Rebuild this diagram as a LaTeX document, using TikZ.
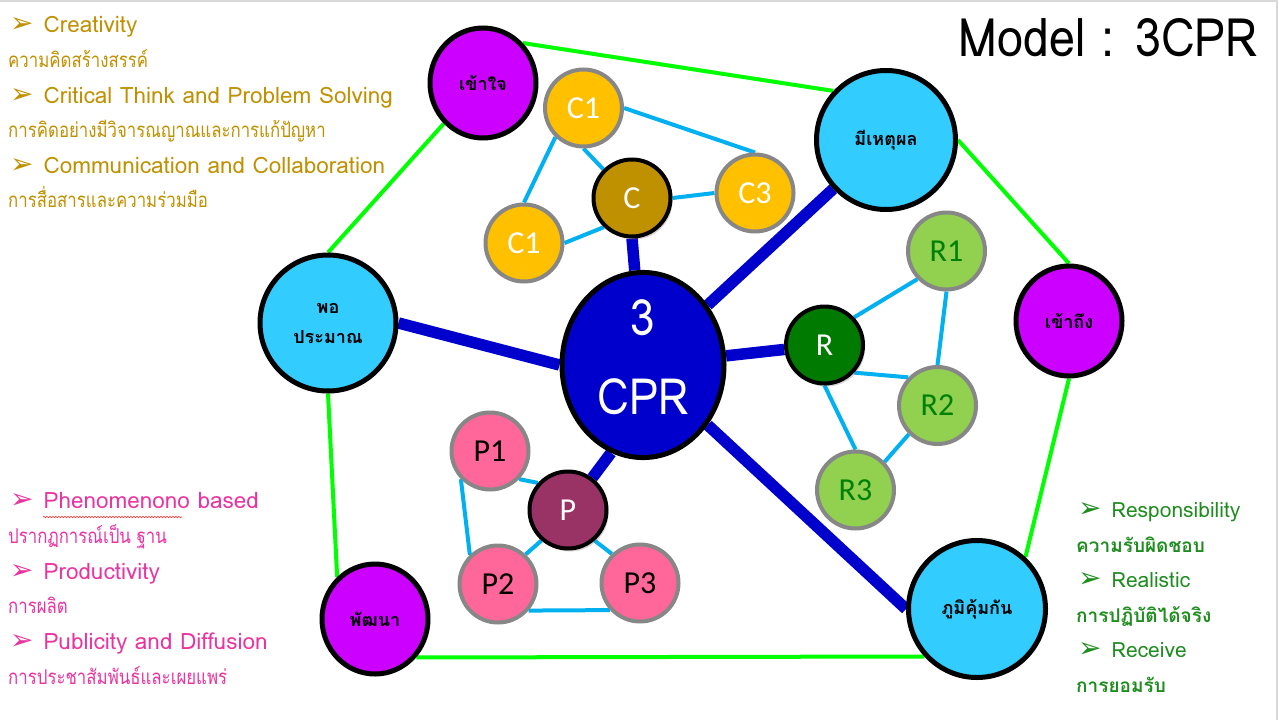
\documentclass[tikz,border=0pt]{standalone}
\usepackage{fontspec}
\setmainfont[Script=Thai]{Loma}
\newfontfamily\thcond[Script=Thai,FakeStretch=0.82]{Loma}
\newfontfamily\titlef[Script=Thai,FakeStretch=0.88]{Loma}
\newfontfamily\carl{Carlito}
\newfontfamily\dv{DejaVu Sans}
\usetikzlibrary{shapes.geometric,shadows,decorations.pathmorphing}
\definecolor{cyanfill}{RGB}{51,204,255}
\definecolor{purpfill}{RGB}{204,0,255}
\definecolor{cprblue}{RGB}{0,0,204}
\definecolor{lblue}{RGB}{0,176,240}
\definecolor{limeg}{RGB}{0,255,0}
\definecolor{cfill}{RGB}{255,192,0}
\definecolor{cdark}{RGB}{191,144,0}
\definecolor{rdark}{RGB}{0,122,0}
\definecolor{rfill}{RGB}{146,208,80}
\definecolor{rtext}{RGB}{0,128,0}
\definecolor{pdark}{RGB}{153,51,102}
\definecolor{pfill}{RGB}{255,102,153}
\definecolor{graybd}{RGB}{135,135,135}
\definecolor{goldtxt}{RGB}{191,144,0}
\definecolor{pinktxt}{RGB}{233,51,160}
\definecolor{greentxt}{RGB}{30,140,30}
\definecolor{framegray}{RGB}{217,217,217}
\pgfdeclarelayer{bg}
\pgfsetlayers{bg,main}
\newcommand{\bul}{{\dv\fontsize{28}{28}\selectfont ➢}\hspace{10pt}}
\begin{document}
\begin{tikzpicture}[x=1pt,y=-1pt,
  big/.style={draw=black, line width=5pt, inner sep=0pt, align=center, text=black,
    font=\bfseries\fontsize{18}{30}\selectfont},
  cyanb/.style={big, circle, fill=cyanfill, minimum size=137pt},
  purp/.style={big, ellipse, fill=purpfill, minimum width=106pt, minimum height=110pt},
  sm/.style={circle, inner sep=0pt, minimum size=77pt, line width=4pt,
    font=\carl\fontsize{32}{34}\selectfont},
  smgray/.style={sm, draw=graybd},
  smblack/.style={sm, draw=black, text=white, drop shadow={opacity=0.35, shadow xshift=2pt, shadow yshift=-3pt}},
  thick/.style={draw=cprblue, line width=11.5pt},
  thin/.style={draw=lblue, line width=4pt},
  poly/.style={draw=limeg, line width=4pt},
  txt/.style={anchor=west, inner sep=0pt, text height=15pt, text depth=5pt},
  gtxt/.style={txt, text=goldtxt, font=\fontsize{22.5}{24}\selectfont},
  gth/.style={txt, text=goldtxt, font=\thcond\fontsize{20.5}{22}\selectfont},
  ptxt/.style={txt, text=pinktxt, font=\fontsize{22.5}{24}\selectfont},
  pth/.style={txt, text=pinktxt, font=\thcond\fontsize{20.5}{22}\selectfont},
  rtxt/.style={txt, text=greentxt, font=\fontsize{21}{24}\selectfont},
  rth/.style={txt, text=greentxt, font=\bfseries\fontsize{19}{24}\selectfont}
]
\useasboundingbox (0,0) rectangle (1279,720);
\draw[framegray, line width=2pt] (0,1) -- (1277,1) -- (1277,720);

% big nodes
\node[purp] (kaojai) at (483,83) {เข้าใจ};
\node[cyanb, minimum size=139pt] (mee) at (886,140) {มีเหตุผล};
\node[purp] (kaoteung) at (1069,321) {เข้าถึง};
\node[cyanb] (bhumi) at (977,609) {ภูมิคุ้มกัน};
\node[purp] (pattana) at (375,619) {พัฒนา};
\node[cyanb, minimum size=136pt] (por) at (328,323) {พอ\\ประมาณ};
\node[big, ellipse, fill=cprblue, minimum width=162pt, minimum height=177pt,
  text=white, font=\titlef\fontsize{50}{79}\selectfont] (cpr) at (643,365) {3\\CPR\rule[-16pt]{0pt}{0pt}};

% C cluster
\node[smgray, fill=cfill, text=white] (c1a) at (583.5,108) {C1};
\node[smblack, fill=cdark] (c) at (632,198) {C};
\node[smgray, fill=cfill, text=white] (c1b) at (524,243) {C1};
\node[smgray, fill=cfill, text=white] (c3) at (755,193) {C3};
% R cluster
\node[smblack, fill=rdark] (r) at (824.5,345) {R};
\node[smgray, fill=rfill, text=rtext] (r1) at (946.5,251) {R1};
\node[smgray, fill=rfill, text=rtext] (r2) at (937.5,405.5) {R2};
\node[smgray, fill=rfill, text=rtext] (r3) at (855.5,490) {R3};
% P cluster
\node[smblack, fill=pdark] (p) at (568,510) {P};
\node[smgray, fill=pfill, text=black] (p1) at (490,451) {P1};
\node[smgray, fill=pfill, text=black] (p2) at (498,584) {P2};
\node[smgray, fill=pfill, text=black] (p3) at (640,583) {P3};

\begin{pgfonlayer}{bg}
  % outer green polygon
  \draw[poly] (kaojai.45) -- (mee.137);
  \draw[poly] (mee.east) -- (kaoteung.north);
  \draw[poly] (kaoteung.south) -- (bhumi.47);
  \draw[poly] (bhumi.222) -- (pattana.317);
  \draw[poly] (pattana.132) -- (por.south);
  \draw[poly] (por.north) -- (kaojai.226);
  % thick blue
  \draw[thick] (cpr) -- (mee);
  \draw[thick] (cpr.west) -- (por.east);
  \draw[thick] (cpr.95) -- (c.south);
  \draw[thick] (cpr) -- (r);
  \draw[thick] (cpr.250) -- (p.53);
  \draw[thick] (cpr) -- (bhumi.west);
  % C cluster
  \draw[thin] (c1a.south) -- (c.135);
  \draw[thin] (c1a.226) -- (c1b.north);
  \draw[thin] (c1a.east) -- (c3.north);
  \draw[thin] (c.east) -- (c3.west);
  \draw[thin] (c.226) -- (c1b.east);
  % R cluster
  \draw[thin] (r.43) -- (r1.224);
  \draw[thin] (r1.south) -- (r2.north);
  \draw[thin] (r.317) -- (r2.136);
  \draw[thin] (r.south) -- (r3.north);
  \draw[thin] (r2.225) -- (r3.44);
  % P cluster
  \draw[thin] (p1.316) -- (p.138);
  \draw[thin] (p1.224) -- (p2.134);
  \draw[thin] (p.229) -- (p2.47);
  \draw[thin] (p.311) -- (p3.134);
  \draw[thin] (p2.319) -- (p3.222);
\end{pgfonlayer}

% title
\node[anchor=east, inner sep=0pt, font=\titlef\fontsize{53}{60}\selectfont] (title) at (1258,38) {Model : 3CPR};

% top-left texts
\node[gtxt] (g1) at (10,27) {\bul Creativity};
\node[gth] (g2) at (8,62) {ความคิดสร้างสรรค์};
\node[gtxt] (g3) at (10,98) {\bul Critical Think and Problem Solving};
\node[gth] (g4) at (8,132) {การคิดอย่างมีวิจารณญาณและการแก้ปัญหา};
\node[gtxt] (g5) at (10,168) {\bul Communication and Collaboration};
\node[gth] (g6) at (8,202) {การสื่อสารและความร่วมมือ};

% bottom-left texts
\node[ptxt] (p_1) at (10,503) {\bul Phenomenono based};
\node[pth] (p_2) at (8,538) {ปรากฏการณ์เป็น ฐาน};
\node[ptxt] (p_3) at (10,574) {\bul Productivity};
\node[pth] (p_4) at (8,608) {การผลิต};
\node[ptxt] (p_5) at (10,644) {\bul Publicity and Diffusion};
\node[pth] (p_6) at (8,679) {การประชาสัมพันธ์และเผยแพร่};
\draw[red!80, line width=0.6pt, decorate, decoration={snake, amplitude=0.8pt, segment length=3pt}]
  (43,517) -- (182,517);

% bottom-right texts
\node[rtxt] (r_1) at (1078,512) {\bul Responsibility};
\node[rth] (r_2) at (1076,547) {ความรับผิดชอบ};
\node[rtxt] (r_3) at (1078,582) {\bul Realistic};
\node[rth] (r_4) at (1076,617) {การปฏิบัติได้จริง};
\node[rtxt] (r_5) at (1078,652) {\bul Receive};
\node[rth] (r_6) at (1076,687) {การยอมรับ};
\end{tikzpicture}
\end{document}
